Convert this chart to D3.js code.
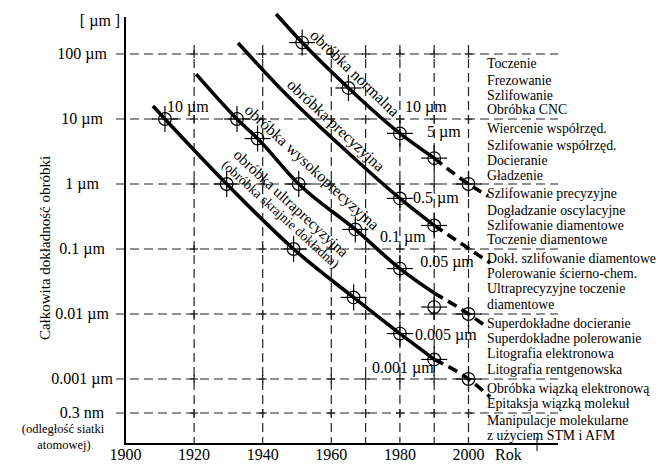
<!DOCTYPE html>
<html>
<head>
<meta charset="utf-8">
<script src="https://cdn.jsdelivr.net/npm/d3@7"></script>
<style>
body{margin:0;background:#fff;}
text{font-family:"Liberation Serif","Times New Roman",serif;fill:#000;}
</style>
</head>
<body>
<svg width="659" height="464"></svg>
<script>
// values
var yTickVals = [100, 10, 1, 0.1, 0.01, 0.001, 0.0003];
var yTickLabels = ['100 \u00b5m', '10 \u00b5m', '1 \u00b5m', '0.1 \u00b5m', '0.01 \u00b5m', '0.001 \u00b5m', '0.3 nm'];
var xTickVals = [1900, 1920, 1940, 1960, 1980, 2000];
var xGridVals = [1920, 1940, 1960, 1970, 1980, 1990, 2000];

// curves: [year, value in um]
var normalna = [[1943.9, 412], [1951.5, 150], [1965, 30], [1980, 6], [1990, 2.5], [2000, 1], [2005.7, 0.65]];
var precyzyjna = [[1932.8, 148], [1945, 30], [1966.3, 2.6], [1980, 0.6], [1990, 0.23], [2006.3, 0.061]];
var wysoko = [[1920.6, 49], [1932.5, 10], [1938.5, 5], [1950.5, 1], [1967, 0.2], [1980, 0.05], [1990, 0.021], [2000, 0.01], [2005.4, 0.0063]];
var ultra = [[1908, 15.8], [1911.5, 10], [1929.5, 1], [1949, 0.1], [1966.5, 0.018], [1980, 0.005], [1990, 0.002], [2000, 0.001], [2006.3, 0.00053]];

// circled points
var markers = [[1951.5, 150], [1965, 30], [1980, 6], [1990, 2.5], [2000, 1],
  [1980, 0.6], [1990, 0.23],
  [1932.5, 10], [1938.5, 5], [1950.5, 1], [1967, 0.2], [1980, 0.05], [1990, 0.0128], [2000, 0.01],
  [1911.5, 10], [1929.5, 1], [1949, 0.1], [1966.5, 0.018], [1980, 0.005], [1990, 0.002], [2000, 0.001]];

// value notes next to the curves: text, year of left edge, value at middle height
var notes = [['10 \u00b5m', 1912.1, 15.3], ['10 \u00b5m', 1981.5, 15.3], ['5 \u00b5m', 1987.9, 6.3],
  ['0.5 \u00b5m', 1983.8, 0.61], ['0.1 \u00b5m', 1974.2, 0.153], ['0.05 \u00b5m', 1985.9, 0.063],
  ['0.005 \u00b5m', 1984.4, 0.00475], ['0.001 \u00b5m', 1971.9, 0.00148]];

// curve names: text, centre year, centre value, angle, size
var curveNames = [['obr\u00f3bka normalna', 1966.9, 51, 44, 16], ['obr\u00f3bka precyzyjna', 1961.4, 8.1, 43, 16],
  ['obr\u00f3bka wysokoprecyzyjna', 1954.4, 1.83, 42.7, 16], ['obr\u00f3bka ultraprecyzyjna', 1948.3, 0.51, 42.7, 15.4],
  ['(obr\u00f3bka skrajnie dok\u0142adna)', 1945.3, 0.345, 42.3, 13.6]];

var processes = ['Toczenie', 'Frezowanie', 'Szlifowanie', 'Obr\u00f3bka CNC', 'Wiercenie wsp\u00f3\u0142rz\u0119d.',
  'Szlifowanie wsp\u00f3\u0142rz\u0119d.', 'Docieranie', 'G\u0142adzenie', 'Szlifowanie precyzyjne',
  'Dog\u0142adzanie oscylacyjne', 'Szlifowanie diamentowe', 'Toczenie diamentowe',
  'Dok\u0142. szlifowanie diamentowe', 'Polerowanie \u015bcierno-chem.', 'Ultraprecyzyjne toczenie',
  'diamentowe', 'Superdok\u0142adne docieranie', 'Superdok\u0142adne polerowanie', 'Litografia elektronowa',
  'Litografia rentgenowska', 'Obr\u00f3bka wi\u0105zk\u0105 elektronow\u0105', 'Epitaksja wi\u0105zk\u0105 moleku\u0142',
  'Manipulacje molekularne', 'z u\u017cyciem STM i AFM'];
var processY = [63, 80, 95, 109, 128, 145, 160, 175, 193, 210, 225, 239, 258, 273, 288, 304, 323, 338, 353, 369, 388, 403, 420, 435];

var svg = d3.select('svg');
var x = d3.scaleLinear().domain([1900, 2000]).range([125.5, 468.5]);
var y = d3.scaleLog().domain([0.001, 100]).range([379, 54]);

// grid
svg.selectAll('.hg').data(yTickVals).enter().append('line')
  .attr('x1', 116).attr('x2', 558).attr('y1', function(d){return y(d);}).attr('y2', function(d){return y(d);})
  .attr('stroke', '#222').attr('stroke-width', 1.2).attr('stroke-dasharray', '9,5');
svg.selectAll('.vg').data(xGridVals).enter().append('line')
  .attr('x1', function(d){return x(d);}).attr('x2', function(d){return x(d);}).attr('y1', 45).attr('y2', 444)
  .attr('stroke', '#222').attr('stroke-width', 1.2).attr('stroke-dasharray', '9,5');
xGridVals.forEach(function(a){
  yTickVals.forEach(function(b){
    svg.append('line').attr('x1', x(a)-4).attr('x2', x(a)+4).attr('y1', y(b)).attr('y2', y(b)).attr('stroke', '#222').attr('stroke-width', 1.2);
    svg.append('line').attr('x1', x(a)).attr('x2', x(a)).attr('y1', y(b)-4).attr('y2', y(b)+4).attr('stroke', '#222').attr('stroke-width', 1.2);
  });
});

// axes
svg.append('line').attr('x1', 125).attr('x2', 125).attr('y1', 17).attr('y2', 445).attr('stroke', '#000').attr('stroke-width', 2);
svg.append('line').attr('x1', 124).attr('x2', 558).attr('y1', 444).attr('y2', 444).attr('stroke', '#000').attr('stroke-width', 2);
svg.append('line').attr('x1', 537).attr('x2', 537).attr('y1', 437).attr('y2', 451).attr('stroke', '#000').attr('stroke-width', 1);

svg.selectAll('.yl').data(yTickVals).enter().append('text')
  .attr('x', 82).attr('y', function(d){return y(d)+5;}).attr('text-anchor', 'middle').attr('font-size', 16)
  .text(function(d, i){return yTickLabels[i];});
svg.append('text').attr('x', 63).attr('y', 433).attr('text-anchor', 'middle').attr('font-size', 12.5).text('(odleg\u0142o\u015b\u0107 siatki');
svg.append('text').attr('x', 64).attr('y', 449).attr('text-anchor', 'middle').attr('font-size', 12.5).text('atomowej)');
svg.append('text').attr('x', 100).attr('y', 26).attr('text-anchor', 'middle').attr('font-size', 16).text('[ \u00b5m ]');
svg.append('text').attr('transform', 'translate(50,248) rotate(-90)').attr('text-anchor', 'middle').attr('font-size', 15)
  .text('Ca\u0142kowita dok\u0142adno\u015b\u0107 obr\u00f3bki');

svg.selectAll('.xl').data(xTickVals).enter().append('text')
  .attr('x', function(d){return x(d);}).attr('y', 460).attr('text-anchor', 'middle').attr('font-size', 16)
  .text(function(d){return d;});
svg.append('text').attr('x', 495).attr('y', 460).attr('font-size', 16).text('Rok');

// curves
var line = d3.line().x(function(d){return x(d[0]);}).y(function(d){return y(d[1]);}).curve(d3.curveMonotoneX);
[normalna, precyzyjna, wysoko, ultra].forEach(function(c){
  var solid = c.filter(function(d){return d[0] <= 1990;});
  var dashed = c.filter(function(d){return d[0] >= 1990;});
  svg.append('path').attr('d', line(solid)).attr('fill', 'none').attr('stroke', '#000').attr('stroke-width', 3.6);
  if (dashed.length > 1) {
    svg.append('path').attr('d', line(dashed)).attr('fill', 'none').attr('stroke', '#000').attr('stroke-width', 3.6).attr('stroke-dasharray', '10,6');
  }
});

// markers
var m = svg.selectAll('.mk').data(markers).enter().append('g')
  .attr('transform', function(d){return 'translate(' + x(d[0]) + ',' + y(d[1]) + ')';});
m.append('circle').attr('r', 6.3).attr('fill', 'none').attr('stroke', '#000').attr('stroke-width', 1.2);
m.append('line').attr('x1', -13).attr('x2', 13).attr('stroke', '#000').attr('stroke-width', 1.2);
m.append('line').attr('y1', -13).attr('y2', 13).attr('stroke', '#000').attr('stroke-width', 1.2);

svg.selectAll('.nt').data(notes).enter().append('text')
  .attr('x', function(d){return x(d[1]);}).attr('y', function(d){return y(d[2]);}).attr('dy', '0.33em').attr('font-size', 16)
  .text(function(d){return d[0];});

svg.selectAll('.cn').data(curveNames).enter().append('text')
  .attr('transform', function(d){return 'translate(' + x(d[1]) + ',' + y(d[2]) + ') rotate(' + d[3] + ')';})
  .attr('text-anchor', 'middle').attr('dy', '0.35em').attr('font-size', function(d){return d[4];})
  .text(function(d){return d[0];});

svg.selectAll('.pr').data(processes).enter().append('text')
  .attr('x', 487).attr('y', function(d, i){return processY[i]+4.5;}).attr('font-size', 13.8)
  .text(function(d){return d;});
</script>
</body>
</html>
